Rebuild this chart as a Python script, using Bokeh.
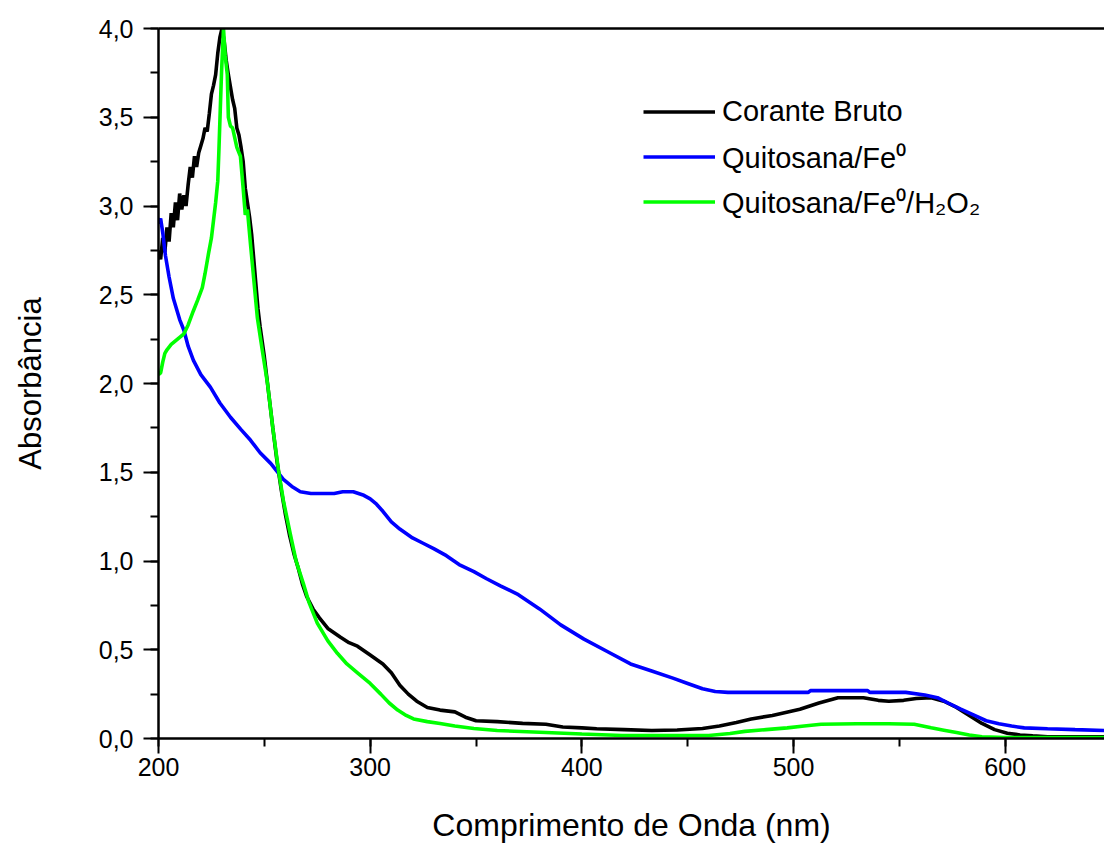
from bokeh.plotting import figure
from bokeh.models import (Range1d, LinearAxis, SingleIntervalTicker, FixedTicker,
                          CustomJSTickFormatter, Legend, LegendItem)
from bokeh.embed import file_html
from bokeh.resources import INLINE

# ---- data ----
black_x = [200, 201, 202, 203, 204, 205, 206, 207, 208, 209, 210, 211, 212, 213, 214, 215,
           216, 217, 218, 219, 220, 221, 222, 223, 224, 225, 226, 227, 228, 229, 230, 231,
           232, 233, 234, 235, 236, 237, 238, 239, 240, 241, 242, 243, 244, 245, 246, 247,
           248, 250, 252, 254, 256, 258, 260, 262, 264, 266, 268, 270, 273, 276, 280, 286,
           290, 294, 300, 306, 310, 314, 318, 322, 327, 333, 340, 345, 350, 360, 372, 383,
           391, 400, 407, 420, 433, 445, 457, 465, 473, 480, 490, 503, 512, 521, 533, 540,
           545, 552, 558, 565, 571, 577, 583, 589, 595, 601, 607, 613, 620, 647]
black_y = [2.75, 2.70, 2.82, 2.74, 2.88, 2.80, 2.96, 2.88, 3.02, 2.92, 3.07, 2.98, 3.06, 3.00,
           3.12, 3.22, 3.16, 3.28, 3.22, 3.30, 3.34, 3.38, 3.44, 3.42, 3.52, 3.63, 3.68, 3.74,
           3.86, 3.95, 4.00, 3.93, 3.82, 3.74, 3.67, 3.60, 3.55, 3.44, 3.40, 3.33, 3.25, 3.10,
           3.02, 2.94, 2.84, 2.70, 2.56, 2.42, 2.32, 2.15, 1.95, 1.75, 1.56, 1.40, 1.26, 1.14,
           1.04, 0.96, 0.87, 0.80, 0.73, 0.68, 0.62, 0.57, 0.54, 0.52, 0.47, 0.42, 0.37, 0.30,
           0.25, 0.21, 0.175, 0.16, 0.15, 0.12, 0.10, 0.095, 0.085, 0.08, 0.065, 0.06, 0.055,
           0.05, 0.045, 0.048, 0.056, 0.07, 0.09, 0.11, 0.13, 0.165, 0.20, 0.23, 0.23, 0.215,
           0.21, 0.215, 0.225, 0.23, 0.21, 0.175, 0.13, 0.085, 0.05, 0.03, 0.02, 0.015, 0.01,
           0.01]

blue_x = [200, 201, 202, 203.3, 205, 207, 210, 212, 214, 216.5, 220, 224.5, 229, 234, 239,
          243.5, 248, 253, 259, 263, 267, 272, 278, 283, 287, 292, 297, 300, 303, 306, 310,
          314, 320, 325, 330, 336, 342, 349, 355, 361.5, 370, 380, 390, 401, 412, 423, 433,
          443, 450, 457, 463, 469, 490, 507, 508, 535, 536, 553, 562, 568, 573, 579, 585.5,
          591, 597, 603, 609, 620, 633, 647]
blue_y = [2.90, 2.93, 2.85, 2.72, 2.60, 2.48, 2.36, 2.30, 2.21, 2.13, 2.05, 1.98, 1.89, 1.81,
          1.74, 1.68, 1.61, 1.55, 1.46, 1.42, 1.39, 1.38, 1.38, 1.38, 1.39, 1.39, 1.37, 1.35,
          1.32, 1.28, 1.22, 1.18, 1.13, 1.10, 1.07, 1.03, 0.98, 0.94, 0.90, 0.86, 0.81, 0.73,
          0.64, 0.56, 0.49, 0.42, 0.38, 0.34, 0.31, 0.28, 0.265, 0.26, 0.26, 0.26, 0.27, 0.27,
          0.26, 0.26, 0.245, 0.23, 0.20, 0.165, 0.13, 0.10, 0.083, 0.07, 0.06, 0.055, 0.05,
          0.045]

green_x = [200, 201, 202, 203, 204, 206, 208, 210, 212, 214, 216.5, 218.5, 220.7, 222, 223.6,
           225, 226, 227, 228, 228.5, 229.2, 229.8, 230.7, 231.5, 232.5, 233, 234, 235, 237,
           238.7, 240, 241, 242, 243.5, 246.7, 249, 251.5, 254, 256.7, 259, 262.3, 265, 268.5,
           271, 275, 280, 284.5, 289, 294, 300, 305, 309, 313, 317, 320.5, 327, 333, 340, 349,
           360, 383, 400, 419, 460, 470, 477, 487, 497, 505, 513, 530, 545, 557, 561, 565, 571,
           577, 583, 589, 600, 647]
green_y = [2.05, 2.06, 2.12, 2.17, 2.19, 2.22, 2.24, 2.26, 2.28, 2.33, 2.41, 2.47, 2.54, 2.62,
           2.73, 2.82, 2.92, 3.02, 3.14, 3.30, 3.55, 3.76, 4.00, 3.85, 3.74, 3.50, 3.45, 3.44,
           3.33, 3.28, 3.10, 2.95, 2.98, 2.78, 2.37, 2.19, 2.00, 1.75, 1.51, 1.34, 1.15, 1.00,
           0.87, 0.77, 0.65, 0.55, 0.48, 0.42, 0.37, 0.31, 0.25, 0.20, 0.16, 0.13, 0.11, 0.095,
           0.085, 0.07, 0.056, 0.045, 0.034, 0.025, 0.017, 0.017, 0.028, 0.04, 0.05, 0.06, 0.07,
           0.08, 0.083, 0.083, 0.08, 0.07, 0.06, 0.047, 0.034, 0.02, 0.01, 0.005, 0.005]

series_names = ["Corante Bruto", "Quitosana/Fe\u2070", "Quitosana/Fe\u2070/H\u2082O\u2082"]
series_colors = ["#000000", "#0000ff", "#00ff00"]
x_label = "Comprimento de Onda (nm)"
y_label = "Absorbância"

FONT = "Liberation Sans"

p = figure(width=1104, height=845, output_backend="svg", toolbar_location=None,
           x_range=Range1d(200, 646.9), y_range=Range1d(0, 4.0),
           min_border_left=158, min_border_right=0, min_border_top=28,
           min_border_bottom=107, x_axis_type=None, y_axis_type=None)
p.outline_line_color = None
p.xgrid.visible = False
p.ygrid.visible = False
p.background_fill_color = "white"
p.border_fill_color = "white"

renderers = []
for xs, ys, c in [(black_x, black_y, series_colors[0]),
                  (blue_x, blue_y, series_colors[1]),
                  (green_x, green_y, series_colors[2])]:
    r = p.line(xs, ys, line_color=c, line_width=3.6)
    renderers.append(r)

xaxis = LinearAxis(ticker=SingleIntervalTicker(interval=100, num_minor_ticks=2),
                   axis_label=x_label)
yaxis = LinearAxis(ticker=SingleIntervalTicker(interval=0.5, num_minor_ticks=2),
                   axis_label=y_label,
                   formatter=CustomJSTickFormatter(code="return tick.toFixed(1).replace('.', ',');"))
for ax in (xaxis, yaxis):
    ax.axis_line_width = 2.5
    ax.axis_line_color = "black"
    ax.major_tick_line_width = 2
    ax.minor_tick_line_width = 2
    ax.major_tick_out = 15
    ax.major_tick_in = 0
    ax.minor_tick_out = 8
    ax.minor_tick_in = 0
    ax.major_label_text_font = FONT
    ax.major_label_text_font_size = "25px"
    ax.major_label_text_color = "black"
    ax.axis_label_text_font = FONT
    ax.axis_label_text_font_style = "normal"
    ax.axis_label_text_color = "black"
xaxis.major_label_standoff = 4
xaxis.axis_label_standoff = 28
xaxis.axis_label_text_font_size = "32px"
yaxis.major_label_standoff = 10
yaxis.axis_label_standoff = 48
yaxis.axis_label_text_font_size = "31px"
p.add_layout(xaxis, "below")
p.add_layout(yaxis, "left")

top_axis = LinearAxis(ticker=FixedTicker(ticks=[]), axis_line_width=2.5,
                      major_label_text_font_size="0px", major_tick_out=0, minor_tick_out=0)
p.add_layout(top_axis, "above")

items = [LegendItem(label=n, renderers=[r]) for n, r in zip(series_names, renderers)]
legend = Legend(items=items, location=(485, 514), border_line_color=None,
                background_fill_alpha=0, label_text_font=FONT, label_text_font_size="29px",
                label_text_color="black", glyph_width=72, glyph_height=45, label_height=45,
                label_standoff=7, spacing=0, padding=0, margin=0)
p.add_layout(legend)

open("out.html", "w").write(file_html(p, INLINE))
